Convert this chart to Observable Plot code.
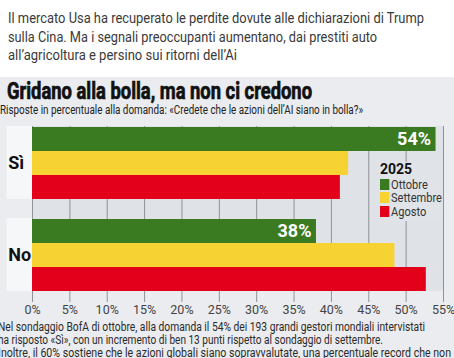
<!DOCTYPE html>
<html><head><meta charset="utf-8">
<script src="https://cdn.jsdelivr.net/npm/d3@7"></script>
<script src="https://cdn.jsdelivr.net/npm/@observablehq/plot@0.6"></script>
<style>
body{margin:0;width:454px;height:358px;overflow:hidden;background:#fff;font-family:Roboto,"Noto Sans",sans-serif;position:relative}
.fit{position:absolute;white-space:nowrap;transform-origin:0 0}
.lead{font-size:15.5px;color:#3a3a3a;line-height:17px}
#panel{position:absolute;left:0;top:77px;width:454px;height:281px;background:#eaecef}
.title{font-size:23px;font-weight:bold;color:#111;line-height:20px;-webkit-text-stroke:0.7px #111}
.sub{font-size:12.5px;color:#222;line-height:13px}
.foot{font-size:12.5px;color:#2a2a2a;line-height:12px}
#chart{position:absolute;left:0;top:120px}
#legend{position:absolute;left:379px;top:162px;background:#e0e3e7;padding:1px 3px 3px 1px;font-size:13px;color:#333;line-height:13.5px;width:58px}
#legend .h{font-weight:bold;color:#111;font-size:14px;margin-bottom:1px}
#legend .row{white-space:nowrap;transform-origin:0 0;transform:scaleX(0.85)}
#legend .sw{display:inline-block;width:11px;height:11px;margin-right:2px;vertical-align:-1px}
</style></head>
<body>
<div class="fit lead" style="left:8px;top:10px" data-w="416">Il mercato Usa ha recuperato le perdite dovute alle dichiarazioni di Trump</div>
<div class="fit lead" style="left:8px;top:29px" data-w="369">sulla Cina. Ma i segnali preoccupanti aumentano, dai prestiti auto</div>
<div class="fit lead" style="left:8px;top:47px" data-w="229">all’agricoltura e persino sui ritorni dell’Ai</div>
<div id="panel"></div>
<div class="fit title" style="left:7px;top:82px" data-w="305">Gridano alla bolla, ma non ci credono</div>
<div class="fit sub" style="left:0px;top:103px" data-w="363">Risposte in percentuale alla domanda: «Credete che le azioni dell’AI siano in bolla?»</div>
<div id="chart"></div>
<div id="legend"></div>
<div class="fit foot" style="left:-2px;top:321px" data-w="427">Nel sondaggio BofA di ottobre, alla domanda il 54% dei 193 grandi gestori mondiali intervistati</div>
<div class="fit foot" style="left:-2px;top:334px" data-w="385">ha risposto «Sì», con un incremento di ben 13 punti rispetto al sondaggio di settembre.</div>
<div class="fit foot" style="left:-2px;top:347px" data-w="453">Inoltre, il 60% sostiene che le azioni globali siano sopravvalutate, una percentuale record che non</div>
<script>
const answers = ["Sì", "No"];
const months = ["Ottobre", "Settembre", "Agosto"];
const legendTitle = "2025";
const valuesSi = [54, 42.3, 41.2];
const valuesNo = [38, 48.5, 52.7];
const colors = ["#3a7b22", "#f6d232", "#e2001b"];
const xTicks = [0, 5, 10, 15, 20, 25, 30, 35, 40, 45, 50, 55];

const data = [];
months.forEach((m, i) => {
  data.push({answer: "Sì", month: m, value: valuesSi[i]});
  data.push({answer: "No", month: m, value: valuesNo[i]});
});
const labelled = data.filter(d => d.month === "Ottobre");
const bands = answers.map(a => ({answer: a}));
const gridSi = xTicks.map(x => ({x, answer: "Sì"}));
const gridNo = xTicks.map(x => ({x, answer: "No"}));
const bgSi = [{answer: "Sì"}];
const bgNo = [{answer: "No"}];

const chart = Plot.plot({
  width: 454, height: 200,
  marginLeft: 32, marginRight: 11, marginTop: 5, marginBottom: 28,
  style: {background: "transparent", fontFamily: 'Roboto,"Noto Sans",sans-serif'},
  x: {domain: [0, 55], axis: null},
  y: {domain: months, padding: 0, axis: null},
  fy: {domain: answers, paddingInner: 0.204, paddingOuter: 0, axis: null},
  color: {domain: months, range: colors},
  marks: [
    Plot.rect(bgSi, {fy: "answer", x1: 0, x2: 55, fill: "#dfe2e6"}),
    Plot.rect(bgNo, {fy: "answer", x1: 0, x2: 55, fill: "#dfe2e6", insetTop: -19}),
    Plot.ruleX(gridSi, {fy: "answer", x: "x", stroke: "#8e9398", strokeWidth: 1}),
    Plot.ruleX(gridNo, {fy: "answer", x: "x", stroke: "#8e9398", strokeWidth: 1, insetTop: -19}),
    Plot.axisX({ticks: xTicks, tickSize: 11, tickPadding: 3, stroke: "#8e9398", fill: "#444", fontSize: 12.5, letterSpacing: "-0.4px", tickFormat: d => d + "%"}),
    Plot.rect(bands, {fy: "answer", x1: -3.4, x2: 0, fill: "#f6f7f8"}),
    Plot.text(bands, {fy: "answer", x: -3.25, text: "answer", frameAnchor: "middle", textAnchor: "start", fontWeight: "bold", fontSize: 18, fill: "#111"}),
    Plot.barX(data, {fy: "answer", y: "month", x: "value", fill: "month"}),
    Plot.text(labelled, {fy: "answer", y: "month", x: "value", text: d => d.value + "%", textAnchor: "end", dx: -5, fill: "white", fontWeight: "bold", fontSize: 18, letterSpacing: "-0.5px"})
  ]
});
document.getElementById("chart").appendChild(chart);

const lg = document.getElementById("legend");
lg.innerHTML = `<div class="h">${legendTitle}</div>` + months.map((m, i) =>
  `<div class="row"><span class="sw" style="background:${colors[i]}"></span>${m}</div>`).join("");

document.querySelectorAll(".fit").forEach(el => {
  const w = el.getBoundingClientRect().width;
  const t = +el.dataset.w;
  el.style.transform = `scaleX(${t / w})`;
});
</script>
</body></html>
